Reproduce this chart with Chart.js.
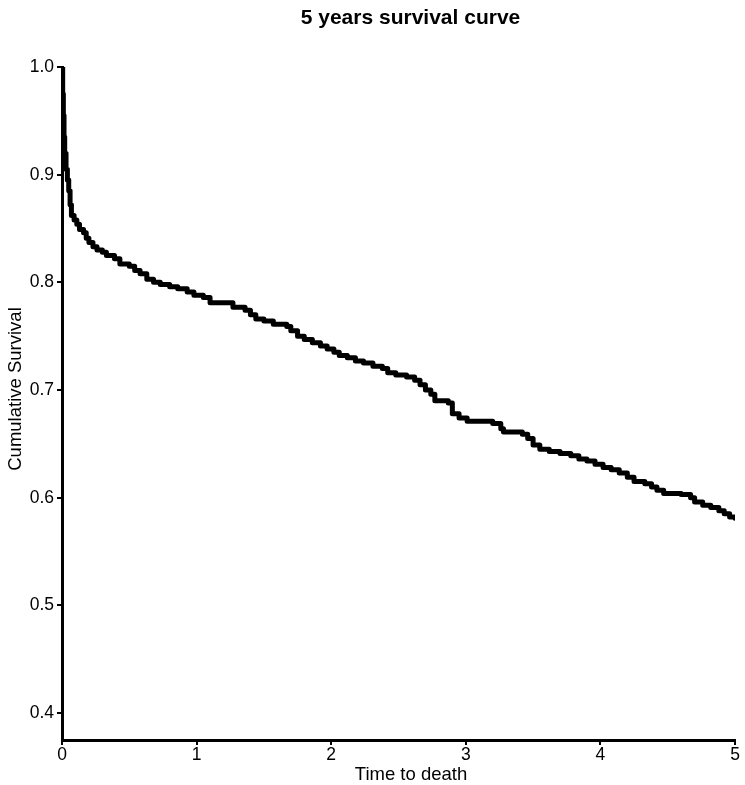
<!DOCTYPE html>
<html>
<head>
<meta charset="utf-8">
<script src="https://cdn.jsdelivr.net/npm/chart.js@4/dist/chart.umd.min.js"></script>
<style>
html,body{margin:0;padding:0;background:#fff;}
#wrap{width:745px;height:785px;}
</style>
</head>
<body>
<div id="wrap"><canvas id="c" width="745" height="785"></canvas></div>
<script>
const chartTitle = "5 years survival curve";
const xTitle = "Time to death";
const yTitle = "Cumulative Survival";
const xTicks = [0, 1, 2, 3, 4, 5];
const yTicks = [0.4, 0.5, 0.6, 0.7, 0.8, 0.9, 1.0];

const times = [0, 0.005, 0.01, 0.015, 0.02, 0.03, 0.04, 0.05, 0.06, 0.07, 0.09, 0.11, 0.13, 0.16, 0.18, 0.20, 0.23, 0.26, 0.30, 0.33, 0.39, 0.43, 0.50, 0.54, 0.58, 0.63, 0.68, 0.73, 0.80, 0.86, 0.93, 0.98, 1.05, 1.10, 1.27, 1.36, 1.40, 1.44, 1.50, 1.57, 1.67, 1.70, 1.75, 1.80, 1.86, 1.92, 1.97, 2.02, 2.06, 2.12, 2.18, 2.24, 2.31, 2.38, 2.42, 2.48, 2.56, 2.62, 2.66, 2.70, 2.74, 2.77, 2.87, 2.90, 2.95, 3.01, 3.20, 3.26, 3.28, 3.42, 3.46, 3.50, 3.55, 3.62, 3.70, 3.78, 3.84, 3.90, 3.96, 4.02, 4.08, 4.14, 4.20, 4.25, 4.33, 4.38, 4.42, 4.47, 4.60, 4.67, 4.70, 4.76, 4.82, 4.88, 4.92, 4.96, 5.00];
const survival = [1.0, 0.975, 0.955, 0.935, 0.92, 0.905, 0.895, 0.885, 0.872, 0.862, 0.858, 0.854, 0.849, 0.846, 0.841, 0.837, 0.833, 0.830, 0.828, 0.825, 0.822, 0.817, 0.815, 0.811, 0.808, 0.803, 0.800, 0.798, 0.796, 0.794, 0.791, 0.788, 0.786, 0.781, 0.777, 0.774, 0.770, 0.766, 0.764, 0.761, 0.759, 0.755, 0.750, 0.747, 0.744, 0.741, 0.738, 0.735, 0.732, 0.730, 0.727, 0.725, 0.722, 0.720, 0.716, 0.714, 0.712, 0.709, 0.705, 0.700, 0.696, 0.690, 0.688, 0.678, 0.674, 0.671, 0.669, 0.664, 0.661, 0.659, 0.655, 0.649, 0.645, 0.643, 0.641, 0.639, 0.636, 0.634, 0.631, 0.628, 0.626, 0.623, 0.619, 0.615, 0.613, 0.610, 0.607, 0.604, 0.603, 0.600, 0.596, 0.593, 0.591, 0.588, 0.585, 0.582, 0.581];

const points = times.map((t, i) => ({x: t, y: survival[i]}));
const FONT = "'Liberation Sans', Arial, sans-serif";

// Title is centred a little right of the canvas centre in the reference;
// axis titles are offset from the plot centre as well.
const shiftPlugin = {
  id: 'shiftTitle',
  afterLayout(chart) {
    const t = chart.titleBlock;
    if (t) {
      const w = t.right - t.left;
      const cx = 410.5;
      t.left = cx - w / 2;
      t.right = cx + w / 2;
    }
  },
  afterDraw(chart) {
    const ctx = chart.ctx;
    ctx.save();
    ctx.fillStyle = '#000';
    ctx.font = "18.5px " + FONT;
    ctx.textAlign = 'center';
    ctx.textBaseline = 'middle';
    ctx.fillText(xTitle, 411, 774.5);
    ctx.translate(16, 389);
    ctx.rotate(-Math.PI / 2);
    ctx.fillText(yTitle, 0, 0);
    ctx.restore();
  }
};

new Chart(document.getElementById('c'), {
  type: 'line',
  data: {
    datasets: [{
      data: points,
      stepped: 'before',
      borderColor: '#000',
      borderWidth: 5,
      borderJoinStyle: 'round',
      borderCapStyle: 'round',
      pointRadius: 0,
      fill: false
    }]
  },
  plugins: [shiftPlugin],
  options: {
    responsive: false,
    animation: false,
    layout: { autoPadding: false, padding: { left: 0, right: 10, top: 0, bottom: 0 } },
    plugins: {
      legend: { display: false },
      tooltip: { enabled: false },
      title: {
        display: true,
        text: chartTitle,
        color: '#000',
        font: { family: FONT, size: 21, weight: 'bold' },
        padding: { top: 5.4, bottom: 36.4 }
      }
    },
    scales: {
      x: {
        type: 'linear',
        min: 0, max: 5,
        afterBuildTicks: s => { s.ticks = xTicks.map(v => ({value: v})); },
        afterFit: s => { s.height = 45; },
        border: { display: true, color: '#000', width: 3 },
        grid: { drawOnChartArea: false, drawTicks: true, tickLength: 5, color: '#000', lineWidth: 2 },
        ticks: { color: '#000', font: { family: FONT, size: 17.5 }, padding: 0, maxRotation: 0,
                 callback: v => String(v) },
        title: { display: false, text: xTitle }
      },
      y: {
        type: 'linear',
        min: 0.375, max: 1.0,
        afterBuildTicks: s => { s.ticks = yTicks.map(v => ({value: v})); },
        afterFit: s => { s.width = 62; },
        border: { display: true, color: '#000', width: 3 },
        grid: { drawOnChartArea: false, drawTicks: true, tickLength: 5, color: '#000', lineWidth: 2 },
        ticks: { color: '#000', font: { family: FONT, size: 17.5 }, padding: 3,
                 callback: v => Number(v).toFixed(1) },
        title: { display: false, text: yTitle }
      }
    }
  }
});
</script>
</body>
</html>
